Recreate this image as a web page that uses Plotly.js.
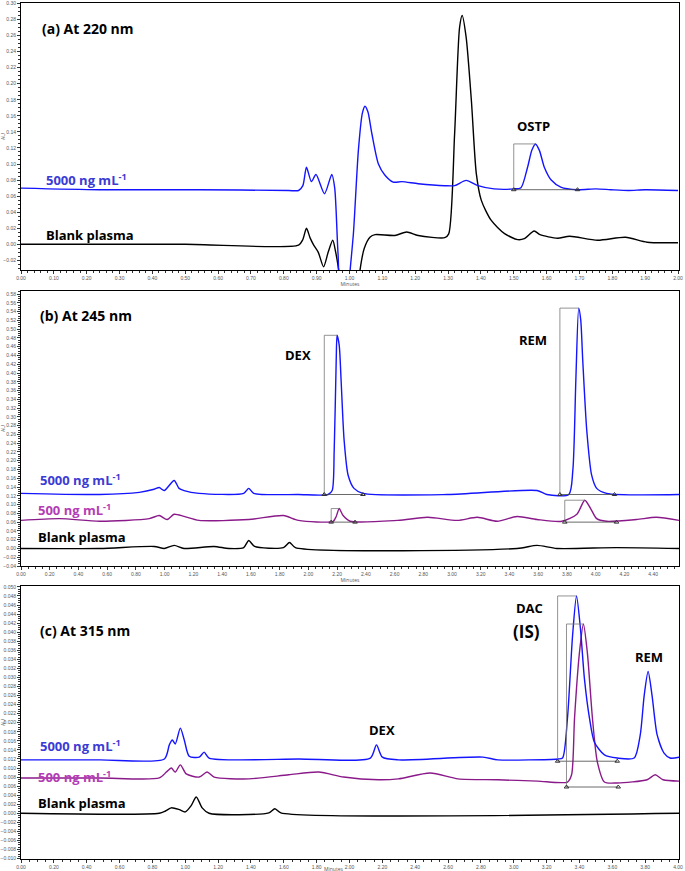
<!DOCTYPE html>
<html><head><meta charset="utf-8">
<script src="https://cdn.plot.ly/plotly-3.0.1.min.js"></script>
<style>body{margin:0;background:#fff}#chart{width:685px;height:871px}</style>
</head><body><div id="chart"></div>
<script>
// ---------- Panel (a) 220 nm ----------
const aBlueX = [0.000,0.239,0.542,0.815,0.845,0.858,0.869,0.884,0.898,0.924,0.946,0.955,0.965,0.975,0.997,1.002,1.012,1.027,1.039,1.047,1.056,1.068,1.088,1.108,1.133,1.159,1.209,1.290,1.320,1.355,1.391,1.440,1.500,1.522,1.542,1.555,1.566,1.578,1.593,1.614,1.643,1.694,1.750,1.795,1.850,1.900,2.000];
const aBlueY = [0.070,0.068,0.068,0.067,0.067,0.073,0.096,0.078,0.087,0.063,0.087,0.070,-0.011,-0.060,-0.060,-0.032,0.014,0.117,0.163,0.172,0.165,0.138,0.100,0.086,0.0775,0.078,0.0755,0.073,0.073,0.0796,0.073,0.069,0.069,0.0705,0.096,0.117,0.125,0.117,0.096,0.080,0.0713,0.068,0.069,0.068,0.067,0.068,0.067];
const aBlankX = [0.000,0.500,0.845,0.858,0.869,0.880,0.891,0.905,0.921,0.935,0.949,0.958,0.967,0.975,1.025,1.032,1.045,1.063,1.078,1.138,1.174,1.209,1.290,1.302,1.320,1.335,1.343,1.355,1.371,1.386,1.401,1.431,1.472,1.512,1.532,1.562,1.580,1.633,1.670,1.755,1.840,1.906,2.000];
const aBlankY = [0.000,0.000,-0.001,0.006,0.020,0.008,-0.001,-0.010,-0.028,-0.010,0.005,-0.010,-0.032,-0.060,-0.060,-0.032,-0.005,0.009,0.012,0.011,0.0153,0.011,0.0083,0.013,0.138,0.270,0.285,0.258,0.179,0.088,0.055,0.030,0.0133,0.0058,0.007,0.0166,0.012,0.0075,0.010,0.005,0.0087,0.0025,0.002];

// ---------- Panel (b) 245 nm ----------
const bBlueX = [0.000,0.547,0.824,0.927,0.962,0.997,1.066,1.100,1.135,1.239,1.550,1.585,1.620,1.931,2.138,2.166,2.180,2.194,2.200,2.215,2.228,2.249,2.277,2.318,2.380,2.969,3.592,3.660,3.813,3.841,3.862,3.882,3.896,3.910,3.938,3.972,4.007,4.076,4.580];
const bBlueY = [0.1256,0.123,0.128,0.135,0.139,0.132,0.155,0.137,0.132,0.1256,0.1256,0.137,0.1256,0.123,0.123,0.132,0.224,0.429,0.486,0.463,0.384,0.247,0.167,0.137,0.1256,0.123,0.132,0.123,0.123,0.178,0.384,0.548,0.521,0.429,0.269,0.167,0.137,0.1256,0.123];
const bPurpleX = [0.000,0.270,0.547,0.893,0.962,1.017,1.066,1.135,1.239,1.585,1.827,1.931,2.173,2.194,2.215,2.242,2.291,2.623,2.830,3.038,3.176,3.315,3.453,3.592,3.765,3.869,3.924,3.965,4.007,4.076,4.284,4.422,4.580];
const bPurpleY = [0.064,0.068,0.062,0.068,0.075,0.066,0.078,0.073,0.064,0.066,0.075,0.064,0.062,0.073,0.091,0.075,0.062,0.064,0.071,0.064,0.071,0.062,0.073,0.066,0.062,0.078,0.110,0.091,0.068,0.062,0.066,0.071,0.064];
const bBlankX = [0.000,0.547,0.927,0.997,1.066,1.135,1.343,1.446,1.550,1.585,1.626,1.827,1.869,1.910,3.453,3.592,3.730,4.145,4.580];
const bBlankY = [0.000,0.000,0.0046,0.000,0.007,0.000,0.0046,0.000,0.002,0.018,0.0046,0.002,0.0137,0.002,0.000,0.007,0.000,0.002,0.000];

// ---------- Panel (c) 315 nm ----------
const cBlueX = [0.000,0.479,0.873,0.903,0.921,0.939,0.970,0.994,1.024,1.085,1.115,1.145,1.691,2.127,2.164,2.200,2.297,2.812,2.903,3.267,3.297,3.327,3.358,3.382,3.406,3.430,3.461,3.491,3.552,3.630,3.733,3.770,3.794,3.818,3.842,3.873,3.915,3.952,4.012];
const cBlueY = [0.0118,0.0118,0.012,0.0151,0.0162,0.0153,0.0188,0.0162,0.0126,0.0124,0.0135,0.0122,0.012,0.0122,0.0151,0.0124,0.0118,0.0124,0.0118,0.012,0.0122,0.021,0.0392,0.048,0.0408,0.0298,0.021,0.0157,0.0129,0.0122,0.0122,0.0173,0.026,0.0313,0.026,0.0173,0.0133,0.0122,0.0124];
const cPurpleX = [0.000,0.479,0.842,0.885,0.915,0.939,0.970,1.006,1.085,1.133,1.176,1.388,1.630,1.812,1.964,2.176,2.297,2.491,2.661,2.903,3.145,3.327,3.352,3.370,3.400,3.424,3.448,3.479,3.509,3.552,3.630,3.812,3.861,3.909,4.012];
const cPurpleY = [0.0078,0.0078,0.0078,0.0091,0.010,0.0091,0.0107,0.0087,0.008,0.0091,0.008,0.0076,0.0085,0.0091,0.008,0.0074,0.0076,0.0089,0.0076,0.0074,0.0071,0.0069,0.0085,0.021,0.0355,0.0418,0.0355,0.021,0.0113,0.0069,0.0067,0.0074,0.0085,0.0074,0.0071];
const cBlankX = [0.000,0.842,0.879,0.915,0.964,1.000,1.036,1.067,1.103,1.145,1.509,1.545,1.582,4.012];
const cBlankY = [0.000,0.000,0.0005,0.0012,0.0008,0.0003,0.0017,0.0036,0.0012,0.000,0.0001,0.001,0.0001,0.000];

// integration marks
const integStart = [1.500, 2.111, 3.751, 2.159, 3.785, 3.267, 3.321];
const integEnd   = [1.694, 2.380, 4.131, 2.325, 4.145, 3.630, 3.636];
const integBase  = [0.068, 0.123, 0.123, 0.060, 0.060, 0.0115, 0.0058];
const integPeakX = [1.566, 2.200, 3.882, 2.215, 3.924, 3.382, 3.424];
const integPeakH = [0.125, 0.486, 0.548, 0.091, 0.110, 0.048, 0.0418];
const integPanel = [1, 2, 2, 2, 2, 3, 3];

const BLUE = '#1414ff', PURPLE = '#8a1a8a', BLACK = '#000000';
const BLUE_T = '#3b3bd4', PURPLE_T = '#b43cb4';
const ax = p => p === 1 ? {xaxis:'x', yaxis:'y'} : {xaxis:'x'+p, yaxis:'y'+p};
const line = (x, y, c, p) => Object.assign({x, y, type:'scatter', mode:'lines', line:{color:c, width:1.4, shape:'spline', smoothing:0.7}, hoverinfo:'skip', showlegend:false}, ax(p));

const traces = [
  line(aBlankX, aBlankY, BLACK, 1), line(aBlueX, aBlueY, BLUE, 1),
  line(bBlankX, bBlankY, BLACK, 2), line(bPurpleX, bPurpleY, PURPLE, 2), line(bBlueX, bBlueY, BLUE, 2),
  line(cBlankX, cBlankY, BLACK, 3), line(cPurpleX, cPurpleY, PURPLE, 3), line(cBlueX, cBlueY, BLUE, 3)
];
for (let i = 0; i < integStart.length; i++) {
  const p = integPanel[i];
  traces.push(Object.assign({x:[integStart[i], integStart[i], integPeakX[i]], y:[integBase[i], integPeakH[i], integPeakH[i]], type:'scatter', mode:'lines', line:{color:'#777', width:0.8}, hoverinfo:'skip', showlegend:false}, ax(p)));
  traces.push(Object.assign({x:[integStart[i], integEnd[i]], y:[integBase[i], integBase[i]], type:'scatter', mode:'lines+markers', line:{color:'#444', width:0.8}, marker:{symbol:'triangle-up-open', size:4, color:'#333'}, hoverinfo:'skip', showlegend:false}, ax(p)));
}

const W = 685, H = 871;
const px = v => v / W, py = v => 1 - v / H;
const tf = {size:5, color:'#555', family:'Arial, Liberation Sans, sans-serif'};
const xa = (dom, range, dtick, minor, anchor, ttl) => ({domain:dom, range, dtick, tick0:0, tickformat:'.2f', ticks:'outside', ticklen:3, tickcolor:'#333', tickfont:tf, ticklabeloverflow:'allow',
  minor:{dtick:minor, ticks:'outside', ticklen:2, tickcolor:'#333'}, showline:true, mirror:true, linecolor:'#000', linewidth:1, showgrid:false, zeroline:false, anchor,
  title:{text:ttl, font:{size:5, color:'#555'}, standoff:1}});
const ya = (dom, range, dtick, minor, fmt, anchor) => ({domain:dom, range, dtick, tick0:0, tickformat:fmt, ticks:'outside', ticklen:3, tickcolor:'#333', tickfont:tf, ticklabeloverflow:'allow',
  minor:{dtick:minor, ticks:'outside', ticklen:2, tickcolor:'#333'}, showline:true, mirror:true, linecolor:'#000', linewidth:1, showgrid:false, zeroline:false, anchor,
  title:{text:'AU', font:{size:5, color:'#555'}, standoff:2}});

const xdom = [px(21), px(679)];
const layout = {
  width:W, height:H, margin:{l:0, r:0, t:0, b:0}, paper_bgcolor:'#fff', plot_bgcolor:'#fff', showlegend:false,
  xaxis: xa(xdom, [0, 2.003], 0.1, 0.02, 'y', 'Minutes'),
  yaxis: ya([py(270), py(3)], [-0.032, 0.3005], 0.02, 0.005, '.2f', 'x'),
  xaxis2: xa(xdom, [0, 4.58], 0.2, 0.05, 'y2', 'Minutes'),
  yaxis2: ya([py(566), py(291)], [-0.040, 0.587], 0.02, 0.005, '.2f', 'x2'),
  xaxis3: xa(xdom, [0, 4.006], 0.2, 0.05, 'y3', ''),
  yaxis3: ya([py(859), py(586)], [-0.0101, 0.0502], 0.002, 0.0005, '.3f', 'x3'),
  annotations: []
};
const F = 'Open Sans, Noto Sans, sans-serif';
const note = (text, x, y, size, color) => layout.annotations.push({text, x:px(x), y:py(y), xref:'paper', yref:'paper', xanchor:'left', yanchor:'middle', showarrow:false, font:{family:F, size, color, weight:700}});
const ML = '5000 ng mL<sup>-1</sup>', ML5 = '500 ng mL<sup>-1</sup>';
note('<b>(a) At 220 nm</b>', 40, 28, 14, '#000');
note('<b>OSTP</b>', 515, 126, 13, '#000');
note('<b>'+ML+'</b>', 44, 180, 13, BLUE_T);
note('<b>Blank plasma</b>', 44, 235, 13, '#000');
note('<b>(b) At 245 nm</b>', 38, 315, 14, '#000');
note('<b>DEX</b>', 283, 355, 13, '#000');
note('<b>REM</b>', 517, 340, 13, '#000');
note('<b>'+ML+'</b>', 38, 480, 13, BLUE_T);
note('<b>'+ML5+'</b>', 36, 510, 13, PURPLE_T);
note('<b>Blank plasma</b>', 36, 537, 13, '#000');
note('<b>(c) At 315 nm</b>', 38, 630, 14, '#000');
note('<b>DEX</b>', 367, 730, 13, '#000');
note('<b>DAC</b>', 514, 608, 13, '#000');
note('<b>(IS)</b>', 511, 631, 17, '#000');
note('<b>REM</b>', 633, 657, 13, '#000');
note('<b>'+ML+'</b>', 38, 745, 13, BLUE_T);
note('<b>'+ML5+'</b>', 36, 776, 13, PURPLE_T);
note('<b>Blank plasma</b>', 36, 803, 13, '#000');
layout.annotations.push({text:'Minutes', x:px(333), y:py(864), xref:'paper', yref:'paper', xanchor:'center', yanchor:'top', showarrow:false, font:{size:5, color:'#555'}});

Plotly.newPlot('chart', traces, layout, {staticPlot:true, displayModeBar:false});
</script></body></html>
